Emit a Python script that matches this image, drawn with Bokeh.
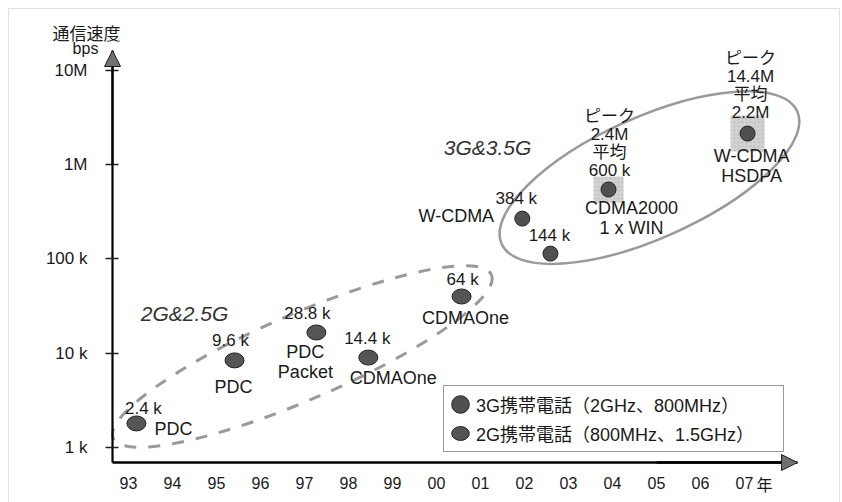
from bokeh.plotting import figure
from bokeh.models import (Range1d, FixedTicker, Arrow, NormalHead, Label, BoxAnnotation,
                          ColumnDataSource, Legend, LegendItem)
from bokeh.core.properties import value
from bokeh.embed import file_html
from bokeh.resources import INLINE

# ---------------- data ----------------
years = [1993.18, 1995.41, 1997.27, 1998.45, 2000.57, 2001.95, 2002.59, 2003.91, 2007.07]
speeds = [1800, 8400, 16600, 9000, 40000, 268000, 114000, 546000, 2140000]
generations = ["2G", "2G", "2G", "2G", "2G", "3G", "3G", "3G", "3G"]
speed_labels = ["2.4 k", "9.6 k", "28.8 k", "14.4 k", "64 k", "384 k", "144 k",
                "ピーク\n2.4M\n平均\n600 k", "ピーク\n14.4M\n平均\n2.2M"]
system_labels = ["PDC", "PDC", "PDC\nPacket", "CDMAOne", "CDMAOne", "W-CDMA", "",
                 "CDMA2000\n1 x WIN", "W-CDMA\nHSDPA"]
highlighted = [False, False, False, False, False, False, False, True, True]

x_tick_years = [1993, 1994, 1995, 1996, 1997, 1998, 1999, 2000, 2001, 2002, 2003, 2004, 2005, 2006, 2007]
x_tick_labels = ["93", "94", "95", "96", "97", "98", "99", "00", "01", "02", "03", "04", "05", "06", "07"]
y_tick_values = [1e3, 1e4, 1e5, 1e6, 1e7]
y_tick_labels = ["1 k", "10 k", "100 k", "1M", "10M"]

legend_3g = "3G携帯電話（2GHz、800MHz）"
legend_2g = "2G携帯電話（800MHz、1.5GHz）"
group_2g = "2G&2.5G"
group_3g = "3G&3.5G"
y_title = "通信速度"
y_unit = "bps"
x_unit = "年"

# group ellipses: centre (year, bps)
ellipse_2g_center = (1996.95, 9230)
ellipse_3g_center = (2004.84, 730000)

# ---------------- label offsets (px, screen; y down) ----------------
speed_dx = [7, -4, -9, -1, 1, -6, -1, 1, 3]
speed_dy = [-15, -20, -19, -19, -17, -20, -18, -46, -48]
system_dx = [37, -1, -11, 25, 4, -66, 0, 23, 4]
system_dy = [6, 27, 29.5, 20, 22, -3, 0, 29, 32]

FONT = "Liberation Sans, Noto Sans CJK JP"
JP = "Noto Sans CJK JP"
INK = "#1a1a1a"

# frame covers x 7..840, y 7..502 px; axes drawn at fixed locations
PX_YEAR = 44.0
PX_DEC = 94.26
X0 = 1993 - (128 - 7) / PX_YEAR
X1 = X0 + 833 / PX_YEAR
LOG0 = 3 - (502 - 447) / PX_DEC
LOG1 = 3 + (447 - 7) / PX_DEC
AX_X = 1993 - 16 / PX_YEAR                 # y axis position (px 112)
AX_X_END = 1993 + (797 - 128) / PX_YEAR    # x arrow tip
AX_Y = 10 ** (3 - 15 / PX_DEC)             # x axis position (px 462)
AX_Y_END = 10 ** (3 + 397 / PX_DEC)        # y arrow tip (px 50)

p = figure(width=842, height=502, output_backend="svg", toolbar_location=None,
           y_axis_type="log", x_range=Range1d(X0, X1), y_range=Range1d(10 ** LOG0, 10 ** LOG1),
           min_border_left=7, min_border_right=2, min_border_top=7, min_border_bottom=0)
p.outline_line_color = None
p.xgrid.visible = False
p.ygrid.visible = False
p.background_fill_color = "white"
p.border_fill_color = "white"

# axes
p.yaxis.fixed_location = AX_X
p.yaxis.bounds = (AX_Y, AX_Y_END)
p.yaxis.ticker = FixedTicker(ticks=y_tick_values)
p.yaxis.major_label_overrides = dict(zip(y_tick_values, y_tick_labels))
p.yaxis.axis_line_width = 2.2
p.yaxis.axis_line_color = "black"
p.yaxis.major_tick_line_width = 1.5
p.yaxis.major_tick_line_color = "#222"
p.yaxis.major_tick_in = 6
p.yaxis.major_tick_out = 7
p.yaxis.minor_tick_line_color = None
p.yaxis.major_label_standoff = 18
p.yaxis.major_label_text_font = FONT
p.yaxis.major_label_text_font_size = "17px"
p.yaxis.major_label_text_color = INK

p.xaxis.fixed_location = AX_Y
p.xaxis.bounds = (AX_X, AX_X_END)
p.xaxis.ticker = FixedTicker(ticks=x_tick_years)
p.xaxis.major_label_overrides = dict(zip(x_tick_years, x_tick_labels))
p.xaxis.axis_line_width = 2.5
p.xaxis.axis_line_color = "black"
p.xaxis.major_tick_in = 0
p.xaxis.major_tick_out = 0
p.xaxis.minor_tick_line_color = None
p.xaxis.major_label_standoff = 14
p.xaxis.major_label_text_font = FONT
p.xaxis.major_label_text_font_size = "16px"
p.xaxis.major_label_text_color = INK

# axis arrow heads
p.add_layout(Arrow(end=NormalHead(size=16, fill_color="#707070", line_color="#222", line_width=1),
                   x_start=AX_X, y_start=1e6, x_end=AX_X, y_end=AX_Y_END, line_color="black", line_width=2))
p.add_layout(Arrow(end=NormalHead(size=16, fill_color="#707070", line_color="#222", line_width=1),
                   x_start=2005, y_start=AX_Y, x_end=AX_X_END, y_end=AX_Y, line_color="black", line_width=2.5))

# outer frame (bottom edge falls outside the picture)
p.add_layout(BoxAnnotation(left=X0 + 1 / PX_YEAR, right=X0 + 832 / PX_YEAR,
                           top=10 ** (3 + (447 - 8) / PX_DEC), bottom=10 ** 1.5,
                           fill_alpha=0, line_color="#9a9a9a", line_width=1))

# group ellipses
p.ellipse(x=[ellipse_2g_center[0]], y=[ellipse_2g_center[1]], width=[412], height=[86], angle=[0.408],
          width_units="screen", height_units="screen", fill_color=None,
          line_color="#9a9a9a", line_width=3, line_dash="12 12")
p.ellipse(x=[ellipse_3g_center[0]], y=[ellipse_3g_center[1]], width=[324], height=[121], angle=[0.422],
          width_units="screen", height_units="screen", fill_color=None,
          line_color="#9a9a9a", line_width=2.5)

# highlight boxes
hx = [x for x, h in zip(years, highlighted) if h]
hy = [y for y, h in zip(speeds, highlighted) if h]
p.rect(x=hx, y=hy, width=[30, 34], height=[26, 36], width_units="screen", height_units="screen",
       fill_color="#d2d2d2", line_color=None, hatch_pattern="dot", hatch_color="#bcbcbc", hatch_scale=4)

src = ColumnDataSource(dict(x=years, y=speeds, gen=generations, sp=speed_labels, sy=system_labels,
                            sdx=speed_dx, sdy=speed_dy, ndx=system_dx, ndy=system_dy))
src2 = ColumnDataSource(dict(x=[x for x, g in zip(years, generations) if g == "2G"],
                             y=[y for y, g in zip(speeds, generations) if g == "2G"]))
src3 = ColumnDataSource(dict(x=[x for x, g in zip(years, generations) if g == "3G"],
                             y=[y for y, g in zip(speeds, generations) if g == "3G"]))

r2 = p.ellipse(x="x", y="y", width=19, height=15, width_units="screen", height_units="screen",
               fill_color="#555555", line_color="#222222", line_width=1, source=src2)
r3 = p.ellipse(x="x", y="y", width=15, height=15, width_units="screen", height_units="screen",
               fill_color="#505050", line_color="#222222", line_width=1, source=src3)

p.text(x="x", y="y", text="sp", x_offset="sdx", y_offset="sdy", source=src,
       text_align="center", text_baseline="middle", text_font=value(FONT),
       text_font_size=value("17px"), text_color=INK, text_line_height=0.95)
p.text(x="x", y="y", text="sy", x_offset="ndx", y_offset="ndy", source=src,
       text_align="center", text_baseline="middle", text_font=value(FONT),
       text_font_size=value("18px"), text_color=INK, text_line_height=1.0)

# titles (screen px relative to frame: x from left edge 7, y from bottom edge 502)
p.add_layout(Label(x=177, y=189, x_units="screen", y_units="screen", text=group_2g,
                   text_font=FONT, text_font_style="italic", text_font_size="21px",
                   text_align="center", text_baseline="middle", text_color="#333"))
p.add_layout(Label(x=480, y=355, x_units="screen", y_units="screen", text=group_3g,
                   text_font=FONT, text_font_style="italic", text_font_size="21px",
                   text_align="center", text_baseline="middle", text_color="#333"))
p.add_layout(Label(x=79, y=470, x_units="screen", y_units="screen", text=y_title,
                   text_font=JP, text_font_size="17px", text_align="center",
                   text_baseline="middle", text_color=INK))
p.add_layout(Label(x=78, y=454, x_units="screen", y_units="screen", text=y_unit,
                   text_font=FONT, text_font_size="16px", text_align="center",
                   text_baseline="middle", text_color=INK))
p.add_layout(Label(x=757, y=19, x_units="screen", y_units="screen", text=x_unit,
                   text_font=JP, text_font_size="16px", text_align="center",
                   text_baseline="middle", text_color=INK))

legend = Legend(items=[LegendItem(label=legend_3g, renderers=[r3]),
                       LegendItem(label=legend_2g, renderers=[r2])],
                location=(436, 50), padding=5, spacing=3, margin=0,
                label_height=22, glyph_height=22, glyph_width=22, label_standoff=5, label_width=302,
                label_text_font=FONT, label_text_font_size="18px", label_text_color=INK,
                border_line_color="#333", border_line_width=1, background_fill_color="white",
                background_fill_alpha=1)
p.add_layout(legend)

open("out.html", "w").write(file_html(p, INLINE))
